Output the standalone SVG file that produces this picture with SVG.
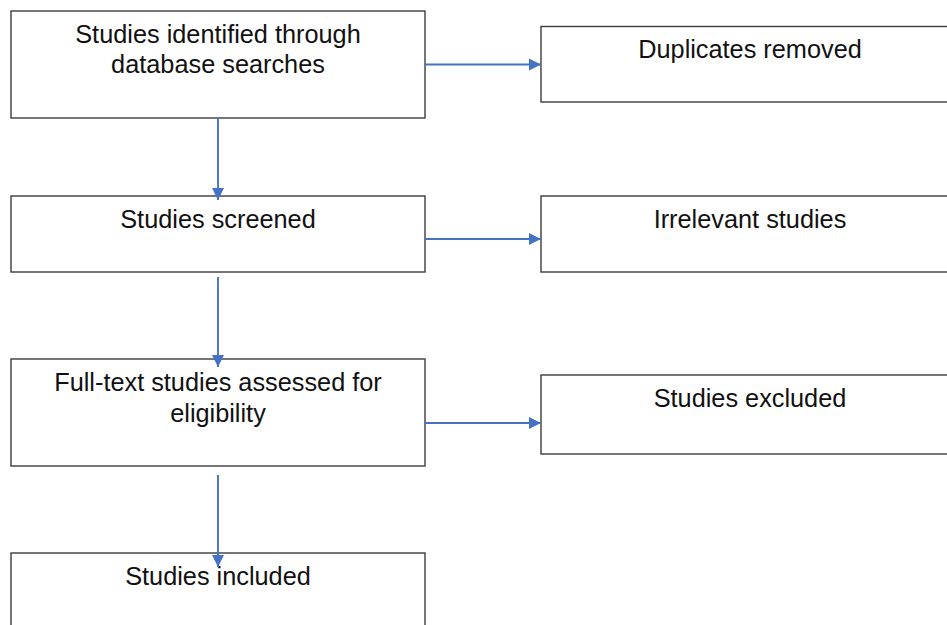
<svg xmlns="http://www.w3.org/2000/svg" width="947" height="625" viewBox="0 0 947 625">
<style>
.box{fill:#ffffff;stroke:#3c3c3c;stroke-width:1.4}
.lbl{font-family:"Liberation Sans",Arial,sans-serif;font-size:25.3px;fill:#111111;text-anchor:middle}
.con{stroke:#4472C4;stroke-width:1.9;fill:none;marker-end:url(#ah)}
</style>
<defs>
<marker id="ah" markerUnits="userSpaceOnUse" markerWidth="12" markerHeight="12" viewBox="0 0 11 11" refX="11" refY="5.5" orient="auto">
<path d="M0,0 L11,5.5 L0,11 Z" fill="#4472C4"/>
</marker>
</defs>
<rect width="947" height="625" fill="#ffffff"/>
<g id="n1"><rect class="box" x="11" y="11" width="414" height="107"/>
<text class="lbl" x="218" y="42.5">Studies identified through</text>
<text class="lbl" x="218" y="73">database searches</text></g>
<g id="n2"><rect class="box" x="541" y="26.5" width="418" height="75.5"/>
<text class="lbl" x="750" y="57.5">Duplicates removed</text></g>
<g id="n3"><rect class="box" x="11" y="196" width="414" height="76"/>
<text class="lbl" x="218" y="228">Studies screened</text></g>
<g id="n4"><rect class="box" x="541" y="196" width="418" height="76"/>
<text class="lbl" x="750" y="228">Irrelevant studies</text></g>
<g id="n5"><rect class="box" x="11" y="359" width="414" height="107"/>
<text class="lbl" x="218" y="390.5">Full-text studies assessed for</text>
<text class="lbl" x="218" y="421.5">eligibility</text></g>
<g id="n6"><rect class="box" x="541" y="375" width="418" height="79"/>
<text class="lbl" x="750" y="407">Studies excluded</text></g>
<g id="n7"><rect class="box" x="11" y="553" width="414" height="90"/>
<text class="lbl" x="218" y="585">Studies included</text></g>
<g id="connectors">
<line class="con" x1="425" y1="64.5" x2="541" y2="64.5"/>
<line class="con" x1="218" y1="118" x2="218" y2="200"/>
<line class="con" x1="425" y1="239" x2="541" y2="239"/>
<line class="con" x1="218" y1="277" x2="218" y2="367"/>
<line class="con" x1="425" y1="423" x2="541" y2="423"/>
<line class="con" x1="218" y1="475" x2="218" y2="567"/>
</g>
</svg>
